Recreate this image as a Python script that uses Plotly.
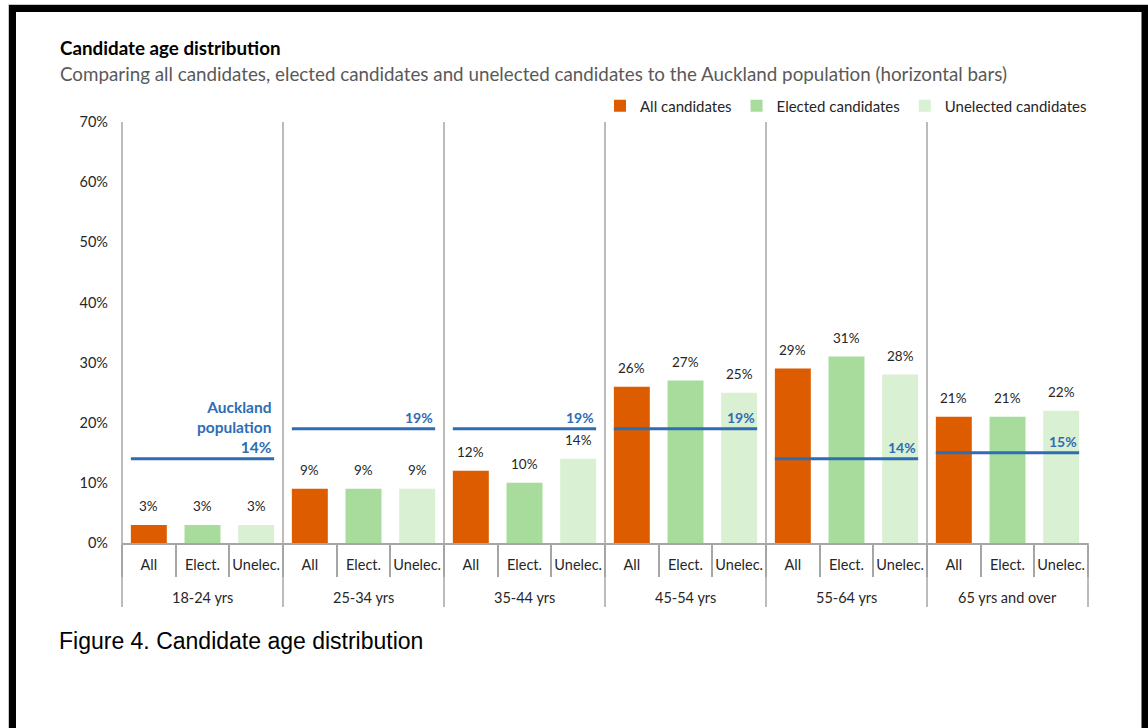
import plotly.graph_objects as go

# ---- data -------------------------------------------------------------
age_groups = ["18-24 yrs", "25-34 yrs", "35-44 yrs", "45-54 yrs", "55-64 yrs", "65 yrs and over"]
sub_labels = ["All", "Elect.", "Unelec."]
all_candidates = [3, 9, 12, 26, 29, 21]
elected_candidates = [3, 9, 10, 27, 31, 21]
unelected_candidates = [3, 9, 14, 25, 28, 22]
auckland_population = [14, 19, 19, 19, 14, 15]
y_tick_values = [0, 10, 20, 30, 40, 50, 60, 70]

# ---- styling ----------------------------------------------------------
W, H = 1148, 728
M_L, M_R, M_T, M_B = 122, 60, 122, 185
PLOT_W = W - M_L - M_R
PLOT_H = H - M_T - M_B
FONT = "Lato"
ORANGE = "#dd5c00"
GREEN = "#a8dc9d"
PALE_GREEN = "#d9f0d3"
BLUE = "#2e6db4"
AXIS_GREY = "#a6a6a6"
TEXT = "#262626"
BAR_WIDTH = 0.67
HALF_BAR = BAR_WIDTH / 2


def px_x(px):
    return (px - M_L) / PLOT_W


def px_y(py):
    return (H - M_B - py) / PLOT_H


n_sub = len(sub_labels)
series = [
    ("All candidates", all_candidates, ORANGE, 0),
    ("Elected candidates", elected_candidates, GREEN, 1),
    ("Unelected candidates", unelected_candidates, PALE_GREEN, 2),
]

fig = go.Figure()
annotations = []

for name, values, color, slot in series:
    xs = [g * n_sub + slot for g in range(len(age_groups))]
    fig.add_trace(go.Bar(
        x=xs, y=values, name=name, width=BAR_WIDTH,
        marker=dict(color=color, line=dict(width=0)), hoverinfo="skip",
    ))
    for x, v in zip(xs, values):
        annotations.append(dict(
            x=x, y=v, xref="x", yref="y", text=f"{v}%", showarrow=False,
            yanchor="bottom", yshift=9, font=dict(family=FONT, size=13.5, color=TEXT),
        ))

# Auckland population reference lines across each age group
for g, p in enumerate(auckland_population):
    x0 = g * n_sub - HALF_BAR
    x1 = g * n_sub + n_sub - 1 + HALF_BAR
    fig.add_trace(go.Scatter(
        x=[x0, x1], y=[p, p], mode="lines", line=dict(color=BLUE, width=3),
        showlegend=False, hoverinfo="skip",
    ))
    if g == 0:
        label, size = f"Auckland<br>population<br>{p}%", 15.5
    else:
        label, size = f"{p}%", 14
    annotations.append(dict(
        x=x1, y=p, xref="x", yref="y", text=f"<b>{label}</b>", showarrow=False,
        xanchor="right", yanchor="bottom", yshift=1, align="right",
        font=dict(family=FONT, size=size, color=BLUE),
    ))

# age group labels under the sub-category labels
for g, grp in enumerate(age_groups):
    annotations.append(dict(
        x=g * n_sub + 1, y=px_y(597), xref="x", yref="paper", text=grp,
        yanchor="middle", showarrow=False, font=dict(family=FONT, size=14.5, color=TEXT),
    ))

# titles and caption
annotations += [
    dict(x=px_x(58), y=px_y(47), xref="paper", yref="paper", xanchor="left",
         yanchor="middle", text="<b>Candidate age distribution</b>", showarrow=False,
         font=dict(family=FONT, size=18.8, color="#000000")),
    dict(x=px_x(58), y=px_y(73), xref="paper", yref="paper", xanchor="left",
         yanchor="middle",
         text="Comparing all candidates, elected candidates and unelected candidates "
              "to the Auckland population (horizontal bars)",
         showarrow=False, font=dict(family=FONT, size=18.8, color="#595959")),
    dict(x=px_x(57), y=px_y(641), xref="paper", yref="paper", xanchor="left",
         yanchor="middle", text="Figure 4. Candidate age distribution", showarrow=False,
         font=dict(family="Liberation Sans", size=23, color="#000000")),
]

# group dividers
shapes = []
for g in range(len(age_groups) + 1):
    top = 1 if g < len(age_groups) else 0
    shapes.append(dict(
        type="line", xref="x domain", yref="paper", x0=g / len(age_groups),
        x1=g / len(age_groups), y0=top, y1=px_y(607),
        line=dict(color=AXIS_GREY, width=1.5),
    ))

# framing border
shapes += [
    dict(type="line", xref="paper", yref="paper", x0=px_x(8.5), x1=px_x(8.5),
         y0=px_y(4.5), y1=px_y(730), line=dict(color="#c8c8c8", width=1)),
    dict(type="line", xref="paper", yref="paper", x0=px_x(8.5), x1=px_x(1150),
         y0=px_y(4.5), y1=px_y(4.5), line=dict(color="#c8c8c8", width=1)),
    dict(type="path", xref="paper", yref="paper",
         path=f"M{px_x(12.5)},{px_y(740)} L{px_x(12.5)},{px_y(8.5)} "
              f"L{px_x(1145)},{px_y(8.5)} L{px_x(1145)},{px_y(740)}",
         line=dict(color="#000000", width=7)),
]

fig.update_layout(
    width=W, height=H,
    margin=dict(l=M_L, r=M_R, t=M_T, b=M_B),
    paper_bgcolor="white", plot_bgcolor="white",
    barmode="overlay",
    font=dict(family=FONT, size=13, color=TEXT),
    showlegend=True,
    legend=dict(
        orientation="h", x=px_x(1092), xanchor="right", y=px_y(106), yanchor="middle",
        font=dict(family=FONT, size=15, color=TEXT), bgcolor="rgba(0,0,0,0)",
        itemclick=False, itemdoubleclick=False, traceorder="normal",
    ),
    xaxis=dict(
        range=[-0.5, len(age_groups) * n_sub - 0.5],
        tickmode="array",
        tickvals=list(range(len(age_groups) * n_sub)),
        ticktext=sub_labels * len(age_groups),
        ticks="", showgrid=False, zeroline=False,
        showline=True, linecolor=AXIS_GREY, linewidth=1.5,
        tickfont=dict(family=FONT, size=14.5, color=TEXT),
        ticklabelstandoff=8,
        minor=dict(
            tickmode="array",
            tickvals=[k - 0.5 for k in range(len(age_groups) * n_sub + 1)],
            ticks="outside", ticklen=32, tickcolor=AXIS_GREY, tickwidth=1.5,
            showgrid=False,
        ),
        fixedrange=True,
    ),
    yaxis=dict(
        range=[0, 70], tickmode="array", tickvals=y_tick_values,
        ticktext=[f"{v}%" for v in y_tick_values],
        showgrid=False, zeroline=False, showline=False,
        ticks="", ticklabelstandoff=13,
        tickfont=dict(family=FONT, size=14.5, color=TEXT), fixedrange=True,
    ),
    annotations=annotations,
    shapes=shapes,
)

fig.write_html("out.html")
